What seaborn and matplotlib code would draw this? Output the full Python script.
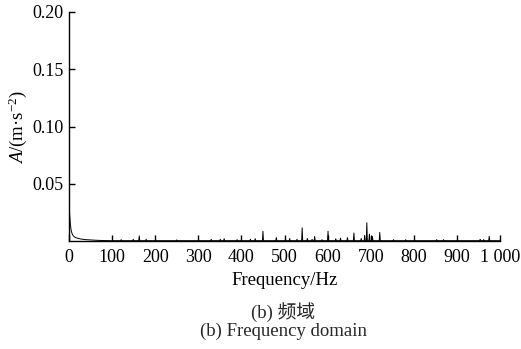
import numpy as np
import pandas as pd
import matplotlib
matplotlib.use("Agg")
import matplotlib.pyplot as plt
import seaborn as sns

# Low-frequency decay (Hz, m/s^2)
low_freq = [0, 0.5, 1, 2, 3, 5, 7, 10, 14, 20, 28, 38, 50, 65, 80, 95]
low_amp = [0.048, 0.034, 0.026, 0.020, 0.015, 0.0095, 0.0065, 0.0045, 0.0032, 0.0024,
           0.0017, 0.0012, 0.0009, 0.0006, 0.0004, 0.0003]
baseline = 0.0003

# Spectral peaks (Hz, m/s^2)
peak_freq = [121, 149, 163, 179, 250, 330, 351, 360, 390, 421, 432, 450, 481, 512,
             529, 541, 553, 564, 570, 587, 601, 619, 630, 646, 661, 678, 686, 691,
             697, 704, 721, 753, 781, 853, 869, 954, 962, 975]
peak_amp = [0.0012, 0.0015, 0.0045, 0.0015, 0.0010, 0.0015, 0.0015, 0.0020, 0.0012,
            0.0015, 0.0020, 0.0085, 0.0030, 0.0022, 0.0015, 0.0115, 0.0022, 0.0015,
            0.0040, 0.0012, 0.0085, 0.0020, 0.0025, 0.0030, 0.0070, 0.0022, 0.0050,
            0.0160, 0.0060, 0.0040, 0.0075, 0.0012, 0.0012, 0.0012, 0.0012, 0.0015,
            0.0012, 0.0040]

x_ticks = [0, 100, 200, 300, 400, 500, 600, 700, 800, 900, 1000]
x_tick_labels = ["0", "100", "200", "300", "400", "500", "600", "700", "800", "900", "1 000"]
y_ticks = [0.05, 0.10, 0.15, 0.20]
y_tick_labels = ["0.05", "0.10", "0.15", "0.20"]

# Build the line table
fx = list(low_freq)
fa = list(low_amp)
for f, a in zip(peak_freq, peak_amp):
    fx += [f - 1.2, f, f + 1.2]
    fa += [baseline, a, baseline]
fx.append(1000)
fa.append(baseline)
df = pd.DataFrame({"freq": fx, "amp": fa}).sort_values("freq")

sns.set_theme(style="ticks")
plt.rcParams["font.family"] = ["Liberation Serif", "Noto Sans CJK SC"]
plt.rcParams["mathtext.fontset"] = "custom"
plt.rcParams["mathtext.it"] = "Liberation Serif:italic"
plt.rcParams["mathtext.rm"] = "Liberation Serif"

fig = plt.figure(figsize=(5.21, 3.49), dpi=100)
ax = fig.add_axes([69 / 521, 1 - 241 / 349, (500 - 69) / 521, (241 - 12) / 349])

sns.lineplot(data=df, x="freq", y="amp", ax=ax, color="black", linewidth=0.7,
             estimator=None, sort=False)

ax.set_xlim(0, 1000)
ax.set_ylim(0, 0.20)
ax.set_xticks(x_ticks)
ax.set_xticklabels(x_tick_labels)
ax.set_yticks(y_ticks)
ax.set_yticklabels(y_tick_labels)
ax.tick_params(direction="in", length=4, width=1, labelsize=13, colors="black", pad=4)
ax.tick_params(axis="x", pad=6)
for s in ["top", "right"]:
    ax.spines[s].set_visible(False)
for s in ["left", "bottom"]:
    ax.spines[s].set_color("black")
    ax.spines[s].set_linewidth(1)

ax.set_xlabel("Frequency/Hz", fontsize=13.5, color="black", labelpad=4)
ax.set_ylabel(r"$A$/(m·s$^{-2}$)", fontsize=13.5, color="black",
              va="center", ha="center")
ax.yaxis.set_label_coords(-0.118, 0.5)

fig.text(283 / 521, 1 - 312 / 349, "(b) 频域", ha="center", va="center", fontsize=13.5,
         family=["Liberation Serif", "Noto Sans CJK SC"])
fig.text(283 / 521, 1 - 331 / 349, "(b) Frequency domain", ha="center", va="center",
         fontsize=13.5, family=["Liberation Serif", "Noto Sans CJK SC"])

fig.savefig("out.png", dpi=100, facecolor="white")
